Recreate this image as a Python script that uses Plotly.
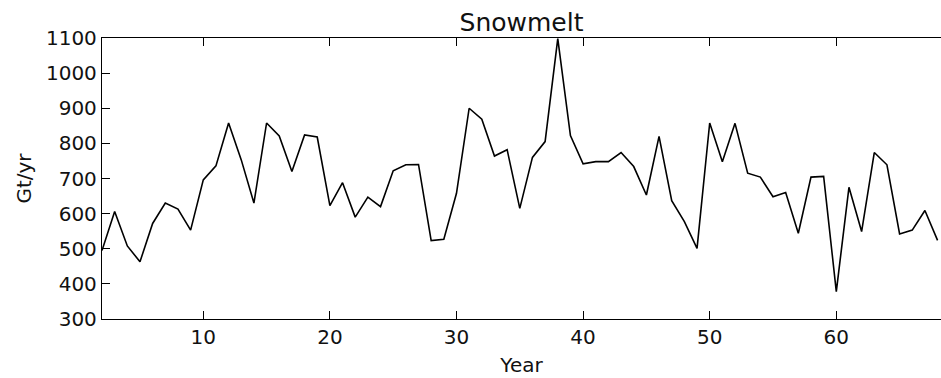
import plotly.graph_objects as go

years = list(range(2, 69))
snowmelt = [495, 606, 508, 463, 572, 630, 613, 553, 696, 736,
            858, 753, 630, 858, 821, 720, 824, 818, 623, 688,
            590, 647, 620, 722, 739, 740, 523, 527, 658, 900,
            869, 764, 782, 615, 760, 805, 1098, 822, 742, 748,
            748, 774, 734, 653, 820, 637, 577, 501, 858, 748,
            857, 715, 704, 648, 660, 544, 704, 706, 378, 675,
            549, 774, 739, 542, 553, 609, 524]

x_ticks = [10, 20, 30, 40, 50, 60]
y_ticks = [300, 400, 500, 600, 700, 800, 900, 1000, 1100]

FONT = "DejaVu Sans"

fig = go.Figure()
fig.add_trace(go.Scatter(x=years, y=snowmelt, mode="lines",
                         line=dict(color="black", width=1.6),
                         showlegend=False, hoverinfo="skip"))

fig.update_layout(
    width=941, height=378,
    margin=dict(l=102, r=0, t=38, b=59, autoexpand=False),
    paper_bgcolor="white", plot_bgcolor="white",
    font=dict(family=FONT, color="black", size=20),
    title=dict(text="Snowmelt", x=0.5, xanchor="center", xref="paper",
               y=1, yref="paper", yanchor="bottom",
               pad=dict(b=7), font=dict(size=25, family=FONT, color="#111")),
)
fig.update_xaxes(
    range=[2, 68.27], tickvals=x_ticks, ticks="inside", ticklen=8, tickwidth=1.3,
    tickcolor="black", showline=True, linecolor="black", linewidth=1.3,
    mirror="allticks", showgrid=False, zeroline=False, automargin=False,
    tickfont=dict(size=20, family=FONT, color="#111"),
    title=dict(text="Year", font=dict(size=20, family=FONT, color="#111"), standoff=9),
)
fig.update_yaxes(
    range=[300, 1100], tickvals=y_ticks, ticks="inside", ticklen=8, tickwidth=1.3,
    tickcolor="black", showline=True, linecolor="black", linewidth=1.3,
    mirror=False, showgrid=False, zeroline=False, automargin=False,
    tickfont=dict(size=20, family=FONT, color="#111"),
    title=dict(text="Gt/yr", font=dict(size=20, family=FONT, color="#111"), standoff=8),
)

fig.write_html("out.html", config={"displayModeBar": False},
               post_script="document.body.style.margin='0';document.body.style.padding='0';document.body.style.overflow='hidden';")
